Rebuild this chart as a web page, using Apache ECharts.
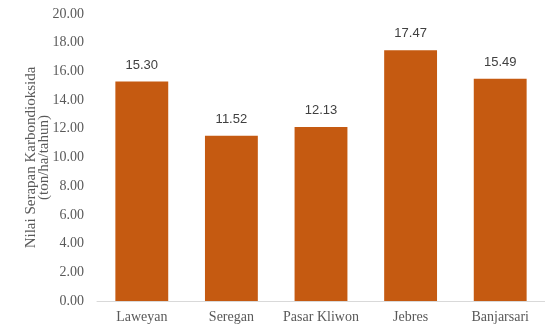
<!DOCTYPE html>
<html><head><meta charset="utf-8">
<script src="https://cdn.jsdelivr.net/npm/echarts@6/dist/echarts.min.js"></script>
<style>html,body{margin:0;padding:0;background:#fff}#c{width:545px;height:327px}</style>
</head><body><div id="c"></div>
<script>
const categories = ['Laweyan', 'Seregan', 'Pasar Kliwon', 'Jebres', 'Banjarsari'];
const values = [15.30, 11.52, 12.13, 17.47, 15.49];
const yTicks = {min: 0, max: 20, interval: 2};
const yName = 'Nilai Serapan Karbondioksida\n(ton/ha/tahun)';

const chart = echarts.init(document.getElementById('c'), null, {renderer: 'canvas'});
chart.setOption({
  animation: false,
  grid: {left: 97, right: 0, top: 14, bottom: 26, containLabel: false},
  xAxis: {
    type: 'category', data: categories,
    axisLine: {lineStyle: {color: '#d9d9d9', width: 1}},
    axisTick: {show: false},
    axisLabel: {interval: 0, color: '#595959', fontFamily: 'Liberation Serif', fontSize: 14, margin: 9}
  },
  yAxis: {
    type: 'value', min: yTicks.min, max: yTicks.max, interval: yTicks.interval,
    name: yName, nameLocation: 'middle', nameRotate: 90, nameGap: 46, nameMoveOverlap: false,
    nameTextStyle: {color: '#595959', fontFamily: 'Liberation Serif', fontSize: 15, lineHeight: 13},
    axisLine: {show: false}, axisTick: {show: false}, splitLine: {show: false},
    axisLabel: {color: '#595959', fontFamily: 'Liberation Serif', fontSize: 14, margin: 13,
      formatter: v => v.toFixed(2)}
  },
  series: [{
    type: 'bar', data: values, barWidth: '59%',
    itemStyle: {color: '#C55A11'},
    label: {show: true, position: 'top', distance: 10, color: '#404040',
      fontFamily: 'Liberation Sans', fontSize: 13, formatter: p => p.value.toFixed(2)}
  }]
});
</script></body></html>
